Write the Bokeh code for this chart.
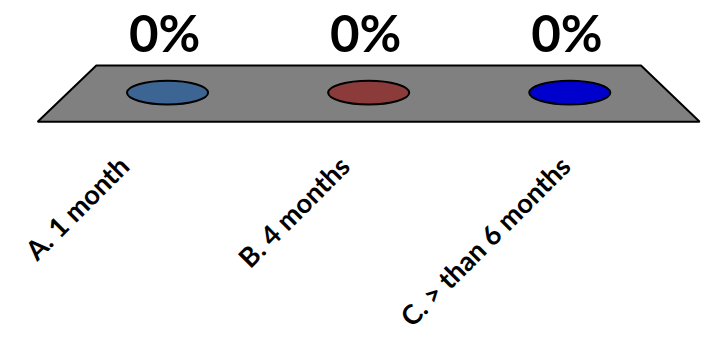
from bokeh.plotting import figure
from bokeh.models import Range1d, ColumnDataSource
from bokeh.core.properties import value
from bokeh.embed import file_html
from bokeh.resources import INLINE

# ---- data ----
categories = ["A. 1 month", "B. 4 months", "C. > than 6 months"]
values = [0, 0, 0]            # percent
value_labels = ["0%", "0%", "0%"]
bar_colors = ["#3D6593", "#8C3B3B", "#0000CC"]

W, H = 706, 336
p = figure(width=W, height=H, output_backend="svg", toolbar_location=None,
           x_range=Range1d(0, 722), y_range=Range1d(352, 0),
           min_border=0, outline_line_color=None)
p.axis.visible = False
p.grid.visible = False
p.background_fill_color = "white"
p.border_fill_color = "white"

# floor (3-D plane)
back_l, back_r, back_y = 98, 655, 68
front_l, front_r, front_y = 38, 715, 127
p.patch([back_l, back_r, front_r, front_l], [back_y, back_y, front_y, front_y],
        fill_color="#808080", line_color="black", line_width=2)

n = len(categories)
mid_y = (back_y + front_y) / 2 - 1
mid_l = (back_l + front_l) / 2
mid_r = (back_r + front_r) / 2
step_mid = (mid_r - mid_l) / n
step_front = (front_r - front_l) / n
px_per_pct = 0.5

xs = [mid_l + (i + 0.5) * step_mid for i in range(n)]
tops = [mid_y - v * px_per_pct for v in values]
src = ColumnDataSource(dict(x=xs, y=tops, c=bar_colors, lab=value_labels,
                            lx=[x - 3 for x in xs],
                            ly=[t - 63 for t in tops]))
p.ellipse(x="x", y="y", width=83, height=25, fill_color="c",
          line_color="black", line_width=2, source=src)
p.text(x="lx", y="ly", text="lab", text_align="center", text_baseline="middle",
       text_font=value("Lato"), text_font_style="bold", text_font_size="51px",
       text_color="black", source=src)

fx = [front_l + (i + 0.5) * step_front - 25 for i in range(n)]
csrc = ColumnDataSource(dict(x=fx, y=[168] * n, t=categories))
p.text(x="x", y="y", text="t", angle=0.785398, text_align="right",
       text_baseline="middle", text_font=value("Lato"), text_font_style="bold",
       text_font_size="27px", text_color="black", source=csrc)

open("out.html", "w").write(file_html(p, INLINE))
